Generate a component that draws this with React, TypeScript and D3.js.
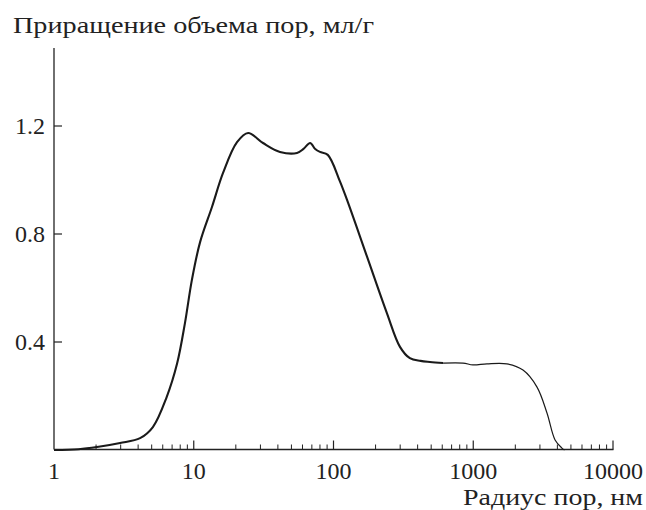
import React from "react";
import * as d3 from "d3";

const radiusNm = [1, 1.5, 2.03, 2.97, 4.13, 5.1, 6.4, 7.6, 8.65, 9.7, 11.1, 13.5, 16.2, 20.4, 24.5, 31.3, 41.4, 54.8, 61, 68, 74, 80, 91, 111, 125, 174, 241, 299, 352, 420, 490, 608];
const increment = [0, 0.003, 0.011, 0.026, 0.044, 0.085, 0.196, 0.32, 0.47, 0.63, 0.77, 0.9, 1.026, 1.14, 1.174, 1.137, 1.104, 1.1, 1.115, 1.137, 1.115, 1.104, 1.093, 0.996, 0.926, 0.715, 0.507, 0.382, 0.34, 0.33, 0.326, 0.322];
const radiusTail = [608, 845, 995, 1253, 1740, 2270, 2860, 3370, 3850, 4310, 4500];
const incrementTail = [0.322, 0.322, 0.315, 0.319, 0.319, 0.296, 0.233, 0.137, 0.037, 0.007, 0];
const xTickValues = [1, 10, 100, 1000, 10000];
const xTickLabels = ["1", "10", "100", "1000", "10000"];
const yTickValues = [0.4, 0.8, 1.2];
const yTickLabels = ["0.4", "0.8", "1.2"];
const yTitle = "Приращение объема пор, мл/г";
const xTitle = "Радиус пор, нм";

export default function App() {
  const W = 646, H = 510;
  const x = d3.scaleLog().domain([1, 10000]).range([54, 613]);
  const y = d3.scaleLinear().domain([0, 1.2]).range([450, 126]);
  const line = d3
    .line<[number, number]>()
    .x((d) => x(d[0]))
    .y((d) => y(d[1]))
    .curve(d3.curveCatmullRom.alpha(0.5));
  const main = line(radiusNm.map((r, i) => [r, increment[i]] as [number, number])) || "";
  const tail = line(radiusTail.map((r, i) => [r, incrementTail[i]] as [number, number])) || "";
  const minor: number[] = [];
  for (let dec = 1; dec < 10000; dec *= 10) for (let k = 2; k <= 9; k++) minor.push(dec * k);
  const base = 449.5;
  const ink = "#222";
  const ts = { fontFamily: '"Times New Roman"' };
  return (
    <svg width={W} height={H} style={{ position: "absolute", left: 0, top: 0 }}>
      <text x={13} y={33} fontSize={24} fill={ink} style={ts} textLength={361} lengthAdjust="spacingAndGlyphs">{yTitle}</text>
      <line x1={54} x2={54} y1={48} y2={base} stroke={ink} strokeWidth={1.3} />
      <line x1={54} x2={613.5} y1={base} y2={base} stroke={ink} strokeWidth={1.3} />
      {yTickValues.map((v, i) => (
        <g key={v}>
          <line x1={54} x2={62} y1={y(v)} y2={y(v)} stroke={ink} strokeWidth={1.2} />
          <text x={45} y={y(v) + 7.5} fontSize={24} textAnchor="end" fill={ink} style={ts}>{yTickLabels[i]}</text>
        </g>
      ))}
      {xTickValues.map((v, i) => (
        <g key={v}>
          {i > 0 && <line x1={x(v)} x2={x(v)} y1={base} y2={base - 9} stroke={ink} strokeWidth={1.2} />}
          <text x={x(v)} y={478.5} fontSize={24} textAnchor="middle" fill={ink} style={ts}>{xTickLabels[i]}</text>
        </g>
      ))}
      {minor.map((v) => (
        <line key={v} x1={x(v)} x2={x(v)} y1={base} y2={base - 5} stroke={ink} strokeWidth={1} />
      ))}
      <text x={643} y={505} fontSize={24} textAnchor="end" fill={ink} style={ts} textLength={180} lengthAdjust="spacingAndGlyphs">{xTitle}</text>
      <path d={main} fill="none" stroke="#1a1a1a" strokeWidth={2.1} strokeLinejoin="round" />
      <path d={tail} fill="none" stroke="#1a1a1a" strokeWidth={1.2} />
    </svg>
  );
}
